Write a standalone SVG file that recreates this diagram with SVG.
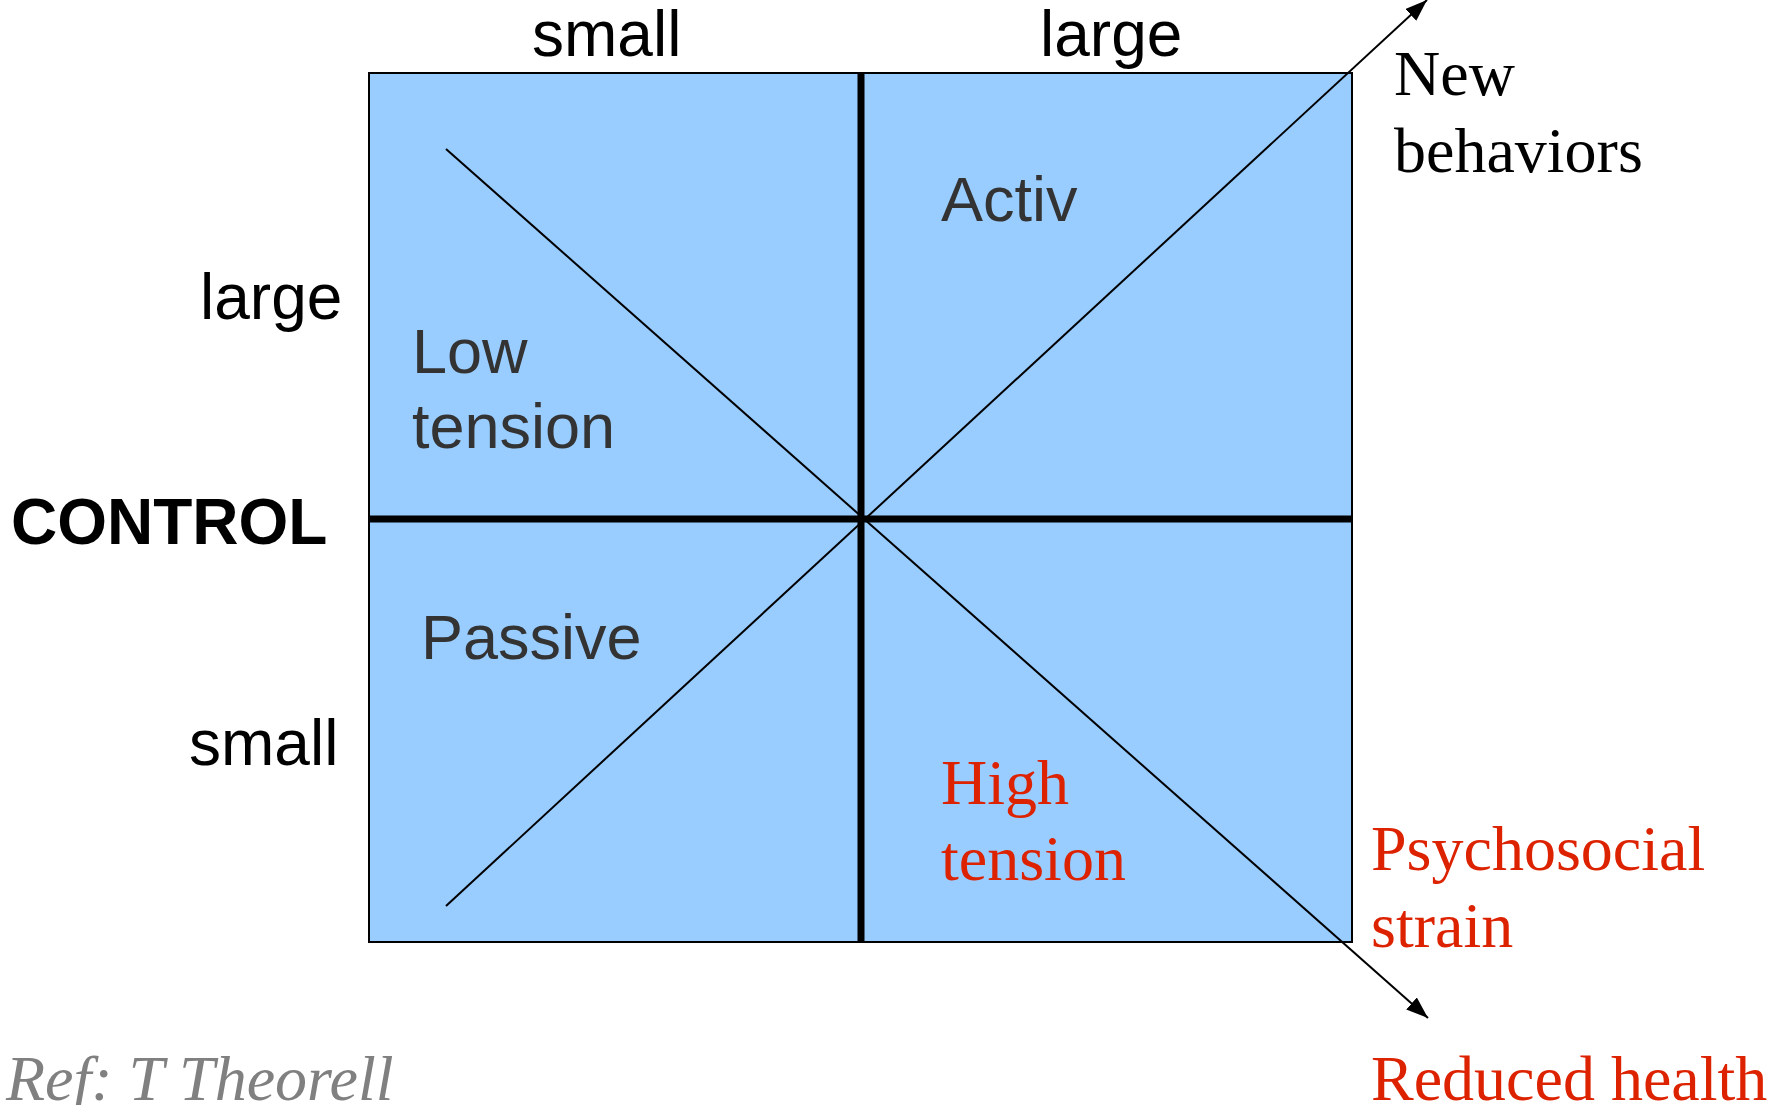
<svg xmlns="http://www.w3.org/2000/svg" width="1783" height="1105" viewBox="0 0 1783 1105">
<style>
.ax{font-family:"Liberation Sans",Arial,sans-serif;font-size:64px;fill:#000}
.q{font-family:"Liberation Sans",Arial,sans-serif;font-size:63px;fill:#333333}
.s{font-family:"Liberation Serif","Times New Roman",serif;font-size:64px;fill:#000}
.red{fill:#dd2200}
.div{stroke:#000;stroke-width:7;fill:none}
.diag{stroke:#000;stroke-width:2;fill:none}
</style>
<defs>
<marker id="arr" markerUnits="userSpaceOnUse" markerWidth="24" markerHeight="18" refX="22" refY="8" orient="auto">
<path d="M0,0 L22,8 L0,16 Z" fill="#000"/>
</marker>
</defs>
<rect width="1783" height="1105" fill="#fff"/>
<g id="grid">
<rect x="369" y="73" width="983" height="869" fill="#99ccff" stroke="#000" stroke-width="2"/>
</g>
<g id="connectors">
<line class="div" x1="861" y1="73" x2="861" y2="942"/>
<line class="div" x1="369" y1="519" x2="1352" y2="519"/>
<line class="diag" x1="446" y1="149" x2="1428" y2="1018" marker-end="url(#arr)"/>
<line class="diag" x1="446" y1="906" x2="1427" y2="0" marker-end="url(#arr)"/>
</g>
<g id="axis-labels">
<text class="ax" x="532" y="56">small</text>
<text class="ax" x="1040" y="56">large</text>
<text class="ax" x="200" y="319">large</text>
<text class="ax" x="189" y="765">small</text>
<text class="ax" x="11" y="544" font-weight="bold">CONTROL</text>
</g>
<g id="low-tension"><text class="q" x="412" y="373">Low</text><text class="q" x="412" y="448">tension</text></g>
<g id="activ"><text class="q" x="941" y="221">Activ</text></g>
<g id="passive"><text class="q" x="421" y="659">Passive</text></g>
<g id="high-tension"><text class="s red" x="941" y="804">High</text><text class="s red" x="941" y="880">tension</text></g>
<g id="new-behaviors"><text class="s" x="1394" y="95">New</text><text class="s" x="1394" y="172">behaviors</text></g>
<g id="psychosocial-strain"><text class="s red" x="1371" y="870">Psychosocial</text><text class="s red" x="1371" y="947">strain</text></g>
<g id="reduced-health"><text class="s red" x="1371" y="1100">Reduced health</text></g>
<g id="ref"><text class="s" x="6" y="1100" font-style="italic" style="fill:#808080">Ref: T Theorell</text></g>
</svg>
